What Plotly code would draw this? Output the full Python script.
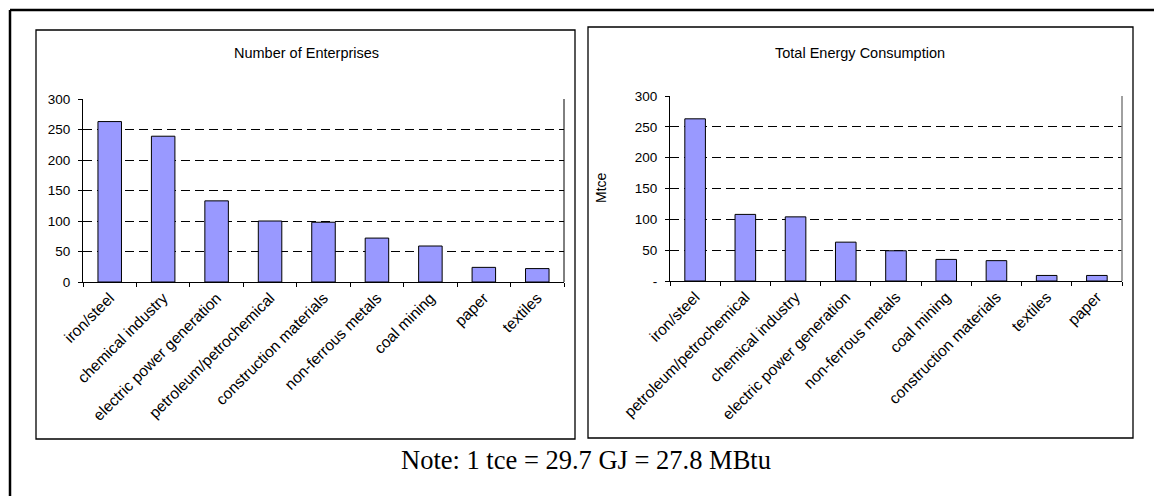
import plotly.graph_objects as go

# ---- data ----
enterprise_sectors = ["iron/steel", "chemical industry", "electric power generation",
                      "petroleum/petrochemical", "construction materials",
                      "non-ferrous metals", "coal mining", "paper", "textiles"]
enterprise_counts = [263, 239, 133, 100, 98, 72, 59, 24, 22]

energy_sectors = ["iron/steel", "petroleum/petrochemical", "chemical industry",
                  "electric power generation", "non-ferrous metals", "coal mining",
                  "construction materials", "textiles", "paper"]
energy_mtce = [263, 108, 104, 63, 49, 35, 33, 9, 9]

y_ticks = [0, 50, 100, 150, 200, 250, 300]
left_tick_text = ["0", "50", "100", "150", "200", "250", "300"]
right_tick_text = ["-", "50", "100", "150", "200", "250", "300"]

W, H = 1154, 496


def px(x):
    return x / W


def py(y):
    return 1 - y / H


SANS = "Liberation Sans, Arial, sans-serif"
SERIF = "Liberation Serif, Times New Roman, serif"
BAR = "#9999FF"

fig = go.Figure()
fig.add_trace(go.Bar(x=enterprise_sectors, y=enterprise_counts, xaxis="x", yaxis="y",
                     marker=dict(color=BAR, line=dict(color="black", width=1)),
                     width=0.44, showlegend=False, hoverinfo="x+y"))
fig.add_trace(go.Bar(x=energy_sectors, y=energy_mtce, xaxis="x2", yaxis="y2",
                     marker=dict(color=BAR, line=dict(color="black", width=1)),
                     width=0.41, showlegend=False, hoverinfo="x+y"))

grid = dict(showgrid=True, gridcolor="black", gridwidth=1, griddash="9px,5px")
xcommon = dict(type="category", tickson="boundaries", ticks="outside", ticklen=4,
               tickcolor="black", tickwidth=1, showline=True, linecolor="black",
               linewidth=1, tickangle=-45, tickfont=dict(family=SANS, size=15.5, color="black"),
               showgrid=False, automargin=False, fixedrange=True)
ycommon = dict(range=[0, 300], tickvals=y_ticks, ticks="outside", ticklen=4,
               tickcolor="black", showline=True, linecolor="black", linewidth=1,
               zeroline=False, tickfont=dict(family=SANS, size=13.5, color="black"),
               ticklabelstandoff=5, automargin=False, fixedrange=True, **grid)

fig.update_layout(
    width=W, height=H,
    margin=dict(l=0, r=0, t=0, b=0),
    paper_bgcolor="white", plot_bgcolor="white",
    bargap=0.5,
    xaxis=dict(domain=[px(83), px(564)], anchor="y", **xcommon),
    yaxis=dict(domain=[py(282), py(99)], anchor="x", ticktext=left_tick_text, **ycommon),
    xaxis2=dict(domain=[px(670), px(1122)], anchor="y2", **xcommon),
    yaxis2=dict(domain=[py(281), py(96)], anchor="x2", ticktext=right_tick_text, **ycommon),
)

shapes = []
# outer frame (left and top edges)
shapes.append(dict(type="line", xref="paper", yref="paper", x0=px(10), x1=px(10),
                   y0=py(10), y1=py(497), line=dict(color="black", width=2.5)))
shapes.append(dict(type="line", xref="paper", yref="paper", x0=px(10), x1=px(1155),
                   y0=py(10), y1=py(10), line=dict(color="black", width=2.5)))
# chart boxes
shapes.append(dict(type="rect", xref="paper", yref="paper", x0=px(36), x1=px(575),
                   y0=py(439), y1=py(30), line=dict(color="black", width=1.3)))
shapes.append(dict(type="rect", xref="paper", yref="paper", x0=px(588), x1=px(1133),
                   y0=py(438), y1=py(27), line=dict(color="black", width=1.3)))
# plot-area right borders
shapes.append(dict(type="line", xref="paper", yref="paper", x0=px(564), x1=px(564),
                   y0=py(282), y1=py(99), line=dict(color="black", width=1)))
shapes.append(dict(type="line", xref="paper", yref="paper", x0=px(1122), x1=px(1122),
                   y0=py(281), y1=py(96), line=dict(color="#808080", width=1.5)))
fig.update_layout(shapes=shapes)

annotations = [
    dict(text="Number of Enterprises", x=px(306), y=py(53), xref="paper", yref="paper",
         showarrow=False, font=dict(family=SANS, size=14.5, color="black"),
         xanchor="center", yanchor="middle"),
    dict(text="Total Energy Consumption", x=px(860), y=py(53), xref="paper", yref="paper",
         showarrow=False, font=dict(family=SANS, size=14.5, color="black"),
         xanchor="center", yanchor="middle"),
    dict(text="Mtce", x=px(601), y=py(188), xref="paper", yref="paper", textangle=-90,
         showarrow=False, font=dict(family=SANS, size=14, color="black"),
         xanchor="center", yanchor="middle"),
    dict(text="Note: 1 tce = 29.7 GJ = 27.8 MBtu", x=px(586), y=py(460), xref="paper",
         yref="paper", showarrow=False, font=dict(family=SERIF, size=26.5, color="black"),
         xanchor="center", yanchor="middle"),
]
fig.update_layout(annotations=annotations)

fig.write_html("out.html")
